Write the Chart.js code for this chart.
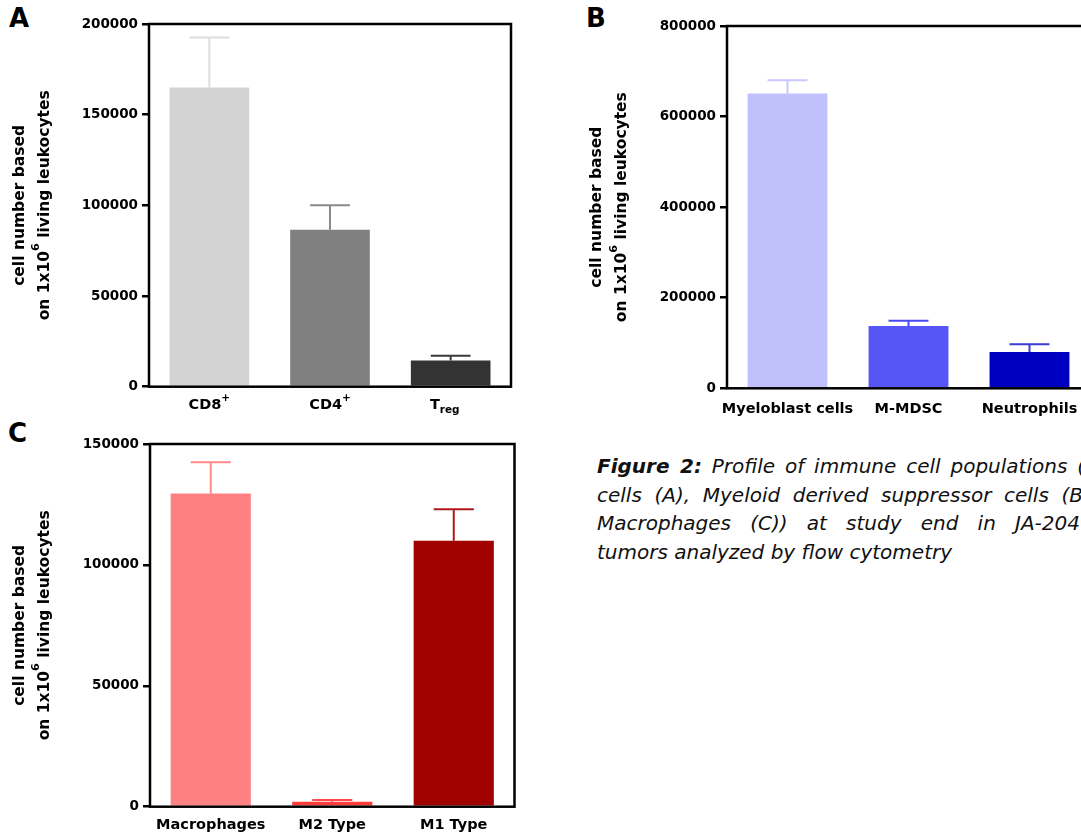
<!DOCTYPE html>
<html>
<head>
<meta charset="utf-8">
<script src="https://cdn.jsdelivr.net/npm/chart.js@4.4.1/dist/chart.umd.min.js"></script>
<style>
html, body { margin:0; padding:0; background:#fff; }
body { width:1081px; height:834px; overflow:hidden; position:relative; }
canvas { position:absolute; }
.letter { position:absolute; font-family:"DejaVu Sans"; font-weight:bold; font-size:26px; line-height:26px; color:#000; }
.caption { position:absolute; left:597px; top:452px; font-family:"DejaVu Sans"; font-style:italic; font-size:20px; line-height:28.5px; color:#111; }
.caption b { font-weight:bold; }
.caption .j { text-align:justify; text-align-last:justify; }
</style>
</head>
<body>
<div class="letter" style="left:9px; top:5px;">A</div>
<div class="letter" style="left:586px; top:5px;">B</div>
<div class="letter" style="left:8px; top:420px;">C</div>

<canvas id="chartA" width="540" height="420" style="left:0px; top:0px;"></canvas>
<canvas id="chartB" width="560" height="420" style="left:540px; top:0px;"></canvas>
<canvas id="chartC" width="540" height="414" style="left:0px; top:420px;"></canvas>

<div class="caption">
  <div class="j" style="width:488px"><b>Figure 2:</b> Profile of immune cell populations (</div>
  <div class="j" style="width:486px">cells (A), Myeloid derived suppressor cells (B</div>
  <div class="j" style="width:483px">Macrophages (C)) at study end in JA-204</div>
  <div>tumors analyzed by flow cytometry</div>
</div>

<script>
// ^ = superscript, _ = subscript (until the next space)
const yTitle1 = 'cell number based';
const yTitle2 = 'on 1x10^6 living leukocytes';

// panel A - T cells
const aLabels = ['CD8^+', 'CD4^+', 'T_reg'];
const aMeans = [165000, 86500, 14500];
const aErrors = [27500, 13500, 2500];
const aTicks = [0, 200000, 50000];

// panel B - MDSC
const bLabels = ['Myeloblast cells', 'M-MDSC', 'Neutrophils'];
const bMeans = [651000, 137500, 80000];
const bErrors = [29000, 11500, 17000];
const bTicks = [0, 800000, 200000];

// panel C - macrophages
const cLabels = ['Macrophages', 'M2 Type', 'M1 Type'];
const cMeans = [129500, 2000, 110000];
const cErrors = [13000, 800, 13000];
const cTicks = [0, 150000, 50000];

const aColors = ['#d3d3d3', '#808080', '#333333'];
const aErrColors = ['#dedede', '#8a8a8a', '#3a3a3a'];
const bColors = ['#c0c0fd', '#5656f7', '#0000c0'];
const bErrColors = ['#c8c8ff', '#4a4af2', '#3c3cd2'];
const cColors = ['#ff8080', '#ff3c3c', '#a00000'];
const cErrColors = ['#ff8a8a', '#ff4848', '#b01818'];

const FONT = '"DejaVu Sans"';

function parseRich(text) {
    let parts = [];
    let re = /([\^_])([^ ]+)|([^\^_]+)/g;
    let m;
    while ((m = re.exec(text)) !== null) {
        if (m[3]) parts.push({t: m[3], k: ''});
        else parts.push({t: m[2], k: m[1] === '^' ? 'sup' : 'sub'});
    }
    return parts;
}

function drawRich(ctx, text, x, y, size) {
    let parts = parseRich(text);
    let total = 0;
    parts.forEach(p => {
        let s = p.k ? size * 0.72 : size;
        ctx.font = 'bold ' + s + 'px ' + FONT;
        p.w = ctx.measureText(p.t).width;
        p.s = s;
        total += p.w;
    });
    // subscripts hang out to the right, like the original figure
    let subW = parts.filter(p => p.k === 'sub').reduce((a, p) => a + p.w, 0);
    let cx = x - total / 2 - subW * 0.3;
    ctx.textAlign = 'left';
    parts.forEach(p => {
        ctx.font = 'bold ' + p.s + 'px ' + FONT;
        let dy = 0;
        if (p.k === 'sup') dy = -size * 0.55;
        if (p.k === 'sub') dy = size * 0.28;
        ctx.fillText(p.t, cx, y + dy);
        cx += p.w;
    });
}

const panelPlugin = {
    id: 'panel',
    afterDatasetsDraw(chart, args, o) {
        const ctx = chart.ctx;
        const area = chart.chartArea;
        const yScale = chart.scales.y;
        const meta = chart.getDatasetMeta(0);

        meta.data.forEach((bar, i) => {
            let top = yScale.getPixelForValue(o.means[i] + o.errors[i]);
            let half = bar.width / 4;
            ctx.save();
            ctx.strokeStyle = o.errColors[i];
            ctx.lineWidth = 2;
            ctx.beginPath();
            ctx.moveTo(bar.x, bar.y);
            ctx.lineTo(bar.x, top);
            ctx.moveTo(bar.x - half, top);
            ctx.lineTo(bar.x + half, top);
            ctx.stroke();
            ctx.restore();
        });

        ctx.save();
        ctx.strokeStyle = '#000';
        ctx.lineWidth = 2.5;
        ctx.strokeRect(area.left, area.top, area.right - area.left, area.bottom - area.top);
        ctx.restore();

        ctx.save();
        ctx.fillStyle = '#000';
        ctx.textBaseline = 'alphabetic';
        meta.data.forEach((bar, i) => {
            drawRich(ctx, o.labels[i], bar.x, area.bottom + o.labelOffset, 14.5);
        });
        ctx.restore();

        ctx.save();
        ctx.fillStyle = '#000';
        ctx.textBaseline = 'middle';
        let cy = (area.top + area.bottom) / 2;
        [[yTitle1, o.title1x], [yTitle2, o.title2x]].forEach(t => {
            ctx.save();
            ctx.translate(t[1], cy);
            ctx.rotate(-Math.PI / 2);
            drawRich(ctx, t[0], 0, 0, 15.5);
            ctx.restore();
        });
        ctx.restore();
    }
};

function makeChart(id, labels, means, errors, colors, errColors, ticks, box) {
    return new Chart(document.getElementById(id), {
        type: 'bar',
        data: {
            labels: labels,
            datasets: [{
                data: means,
                backgroundColor: colors,
                borderWidth: 0,
                barPercentage: 0.66,
                categoryPercentage: 1
            }]
        },
        options: {
            responsive: false,
            animation: false,
            layout: { padding: { left: 0, top: box.top, right: box.right, bottom: 0 } },
            plugins: {
                legend: { display: false },
                tooltip: { enabled: false },
                panel: {
                    labels: labels, means: means, errors: errors, errColors: errColors,
                    labelOffset: box.labelOffset, title1x: box.t1, title2x: box.t2
                }
            },
            scales: {
                x: {
                    grid: { display: false },
                    border: { display: false },
                    ticks: { display: false },
                    afterFit: s => { s.height = box.xh; }
                },
                y: {
                    min: ticks[0],
                    max: ticks[1],
                    border: { display: false },
                    grid: { display: true, drawOnChartArea: false, drawTicks: true, tickLength: 7, color: '#000', lineWidth: 2.5 },
                    ticks: {
                        stepSize: ticks[2],
                        padding: 4,
                        color: '#000',
                        font: { family: 'DejaVu Sans', weight: 'bold', size: 13.5 },
                        callback: v => String(v)
                    },
                    afterFit: s => { s.width = box.left; }
                }
            }
        },
        plugins: [panelPlugin]
    });
}

makeChart('chartA', aLabels, aMeans, aErrors, aColors, aErrColors, aTicks,
    { left: 149, right: 29, top: 24, xh: 33.3, labelOffset: 22.3, t1: 20, t2: 45 });
makeChart('chartB', bLabels, bMeans, bErrors, bColors, bErrColors, bTicks,
    { left: 187, right: 10, top: 26, xh: 31.7, labelOffset: 24.4, t1: 57, t2: 82.4 });
makeChart('chartC', cLabels, cMeans, cErrors, cColors, cErrColors, cTicks,
    { left: 150, right: 25.5, top: 24, xh: 27.3, labelOffset: 22.6, t1: 20, t2: 45 });
</script>
</body>
</html>
